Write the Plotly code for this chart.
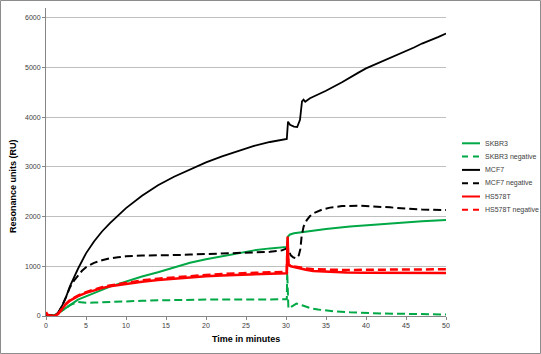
import plotly.graph_objects as go

# ---------------- data ----------------
skbr3_t = [0, 0.5, 1, 1.5, 2, 3, 4, 5, 6, 8, 10, 12, 14, 16, 18, 20, 22, 24, 26, 28, 30.1,
           30.25, 30.5, 31, 33, 35, 38, 41, 44, 47, 50]
skbr3_v = [20, 10, 10, 50, 110, 220, 330, 400, 460, 590, 700, 795, 880, 975, 1070, 1140, 1205,
           1265, 1320, 1360, 1390, 1600, 1640, 1665, 1715, 1750, 1800, 1840, 1875, 1905, 1930]

skbr3n_t = [0, 0.5, 1, 1.5, 2, 3, 4, 5, 6, 8, 10, 12, 14, 16, 18, 20, 22, 24, 26, 28, 30.1,
            30.15, 30.3, 30.8, 31.3, 32, 33, 34, 35, 36, 38, 40, 42, 44, 46, 48, 50]
skbr3n_v = [20, 10, 10, 50, 110, 220, 280, 265, 270, 285, 295, 305, 315, 325, 330, 330, 332,
            335, 335, 335, 335, 890, 150, 200, 250, 215, 160, 130, 110, 95, 75, 60, 50, 45, 40, 35, 30]

mcf7_t = [0, 0.5, 1.0, 1.5, 2.0, 2.5, 3.0, 4.0, 5.0, 6.0, 7.0, 8.0, 9.0, 10.0, 12.0, 14.0, 16.0,
          18.0, 20.0, 22.0, 24.0, 26.0, 28.0, 29.0, 30.1, 30.25, 30.5, 31.0, 31.4, 31.75, 32.0,
          32.2, 32.4, 33.0, 35.0, 37.0, 38.0, 39.0, 40.0, 41.0, 42.0, 43.0, 44.0, 45.0, 46.0,
          47.0, 48.0, 49.0, 50.0]
mcf7_v = [30, 10, 0, 60, 200, 380, 600, 950, 1260, 1500, 1700, 1870, 2030, 2170, 2420, 2630, 2800,
          2950, 3090, 3210, 3320, 3420, 3500, 3535, 3560, 3910, 3845, 3810, 3800, 3945, 4315,
          4350, 4310, 4380, 4530, 4700, 4800, 4890, 4980, 5050, 5120, 5190, 5260, 5320, 5400,
          5480, 5540, 5610, 5680]

mcf7n_t = [0, 0.5, 1, 1.5, 2, 2.5, 3, 3.5, 4, 4.5, 5, 6, 7, 8, 9, 10, 12, 14, 16, 18, 20, 22, 24,
           26, 28, 29.5, 30.1, 30.3, 30.6, 30.9, 31.3, 31.6, 31.8, 31.95, 32.2, 32.6, 33.0, 33.5,
           34.5, 35.5, 37, 39, 41, 43, 45, 47, 50]
mcf7n_v = [20, 10, 0, 60, 200, 380, 580, 710, 820, 910, 980, 1070, 1120, 1160, 1180, 1200, 1215,
           1215, 1225, 1235, 1245, 1255, 1265, 1280, 1290, 1320, 1360, 1330, 1220, 1180, 1160,
           1220, 1350, 1600, 1800, 1930, 2010, 2070, 2140, 2180, 2210, 2220, 2205, 2185, 2160,
           2140, 2130]

hs_t = [0, 0.1, 0.3, 0.7, 1.0, 1.5, 2.0, 2.5, 3.0, 3.5, 4.0, 5.0, 6.0, 7.0, 8.0, 10.0, 12, 14, 16,
        18, 20, 22, 24, 26, 28, 30.1, 30.2, 30.3, 30.6, 31, 31.75, 32.5, 33.4, 35, 37.6, 40, 45, 50]
hs_v = [80, 40, 10, 0, 0, 40, 150, 240, 310, 360, 400, 465, 520, 560, 600, 650, 690, 725, 755,
        780, 800, 815, 830, 840, 850, 860, 1600, 1030, 1000, 985, 955, 930, 907, 890, 875, 868,
        865, 865]

hsn_t = [0, 0.3, 0.7, 1.0, 1.5, 2, 2.5, 3, 3.5, 4, 5, 6, 7, 8, 10, 12, 14, 16, 18, 20, 22, 24,
         26, 28, 30.1, 30.2, 30.3, 30.6, 31, 31.75, 32.5, 33.4, 35, 37.6, 40, 45, 50]
hsn_v = [60, 10, 0, 0, 40, 150, 245, 320, 370, 410, 480, 535, 580, 615, 670, 715, 750, 780, 805,
         825, 845, 860, 870, 880, 885, 1500, 1040, 1010, 995, 970, 955, 940, 930, 925, 930, 935, 940]

x_ticks = [0, 5, 10, 15, 20, 25, 30, 35, 40, 45, 50]
y_ticks = [0, 1000, 2000, 3000, 4000, 5000, 6000]

GREEN = "#00A846"
RED = "#FF0000"
BLACK = "#000000"
DASH = "8px,4px"

series = [
    ("SKBR3", skbr3_t, skbr3_v, GREEN, "solid", 2),
    ("SKBR3 negative", skbr3n_t, skbr3n_v, GREEN, DASH, 2),
    ("MCF7", mcf7_t, mcf7_v, BLACK, "solid", 1.8),
    ("MCF7 negative", mcf7n_t, mcf7n_v, BLACK, DASH, 2),
    ("HS578T", hs_t, hs_v, RED, "solid", 2.5),
    ("HS578T negative", hsn_t, hsn_v, RED, DASH, 2.5),
]

fig = go.Figure()
for name, t, v, col, dash, w in series:
    fig.add_trace(go.Scatter(x=t, y=v, mode="lines", name=name, showlegend=False,
                             line=dict(color=col, dash=dash, width=w)))

# geometry helpers (pixels -> paper)
W, H = 541, 354
ML, MR, MT, MB = 46, 95, 8, 38
PW, PH = W - ML - MR, H - MT - MB


def px(xp):
    return (xp - ML) / PW


def py(yp):
    return (H - MB - yp) / PH


shapes = []
annotations = []
# outer border
shapes.append(dict(type="rect", xref="paper", yref="paper", x0=px(0.5), x1=px(540.5),
                   y0=py(353.5), y1=py(0.5), line=dict(color="#8C8C8C", width=1)))
# manual legend
leg_y0, leg_dy = 143.3, 13.3
for i, (name, t, v, col, dash, w) in enumerate(series):
    yy = leg_y0 + i * leg_dy
    shapes.append(dict(type="line", xref="paper", yref="paper", x0=px(462), x1=px(480),
                       y0=py(yy), y1=py(yy),
                       line=dict(color=col, width=2, dash="solid" if dash == "solid" else "6px,5px")))
    annotations.append(dict(xref="paper", yref="paper", x=px(483), y=py(yy), text=name,
                            showarrow=False, xanchor="left", yanchor="middle",
                            font=dict(size=7, color="#404040", family="Liberation Sans")))

# axis titles
annotations.append(dict(xref="paper", yref="paper", x=px(245.8), y=py(338.5),
                        text="<b>Time in minutes</b>", showarrow=False,
                        xanchor="center", yanchor="middle",
                        font=dict(size=9, color="#000000", family="Liberation Sans")))
annotations.append(dict(xref="paper", yref="paper", x=px(12.5), y=py(186.5),
                        text="<b>Resonance units (RU)</b>", showarrow=False, textangle=-90,
                        xanchor="center", yanchor="middle",
                        font=dict(size=9, color="#000000", family="Liberation Sans")))

fig.update_layout(
    width=W, height=H,
    margin=dict(l=ML, r=MR, t=MT, b=MB, pad=0),
    paper_bgcolor="white", plot_bgcolor="white",
    shapes=shapes, annotations=annotations,
    font=dict(family="Liberation Sans", size=7, color="#404040"),
)
fig.update_xaxes(range=[0, 50], tickvals=x_ticks, showgrid=False, zeroline=False,
                 showline=True, linecolor="#868686", linewidth=1,
                 ticks="outside", ticklen=3, tickcolor="#868686",
                 tickfont=dict(size=7, color="#404040"))
fig.update_yaxes(range=[0, 6195], tickvals=y_ticks, showgrid=True, gridcolor="#BFBFBF",
                 gridwidth=1, zeroline=False, showline=True, linecolor="#868686", linewidth=1,
                 ticks="outside", ticklen=3, tickcolor="#868686",
                 tickfont=dict(size=7, color="#404040"))

fig.write_html("out.html")
